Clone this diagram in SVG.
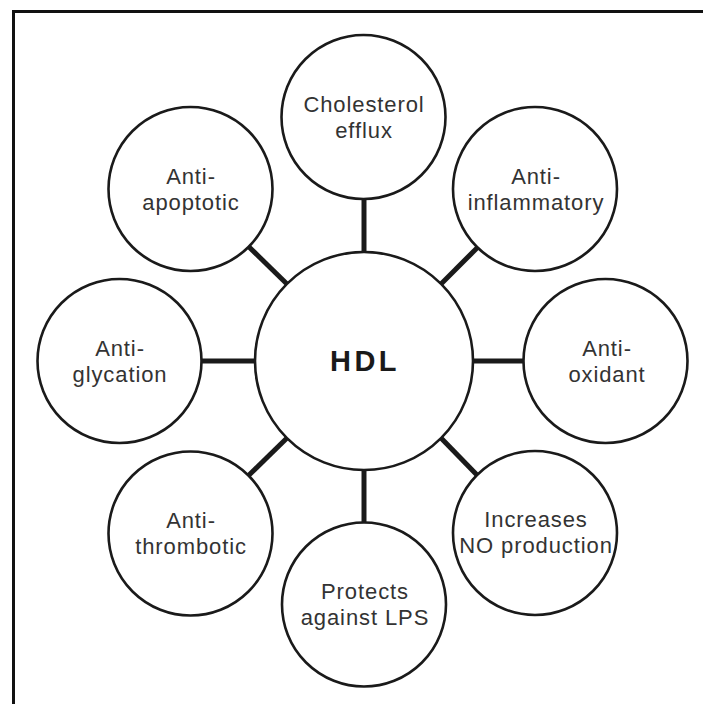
<svg xmlns="http://www.w3.org/2000/svg" width="703" height="704" viewBox="0 0 703 704">
<style>
.bg{fill:#ffffff}
.frame{fill:none;stroke:#111;stroke-width:3}
.node circle{fill:#fff;stroke:#1a1a1a;stroke-width:2.6}
.node text{font-family:"Liberation Sans",Arial,sans-serif;font-size:22px;fill:#333;text-anchor:middle;letter-spacing:0.9px}
#hdl text{font-size:29px;font-weight:bold;fill:#1a1a1a;letter-spacing:3.5px}
#connectors line{stroke:#1a1a1a;stroke-width:5}
</style>
<rect class="bg" x="0" y="0" width="703" height="704"/>
<path class="frame" d="M13.5,704 V11.5 H703"/>
<g id="connectors">
  <line x1="364" y1="252" x2="364" y2="199"/>
  <line x1="364" y1="470" x2="364" y2="522"/>
  <line x1="255" y1="361" x2="202" y2="361"/>
  <line x1="473" y1="361" x2="523" y2="361"/>
  <line x1="287" y1="284" x2="248" y2="246"/>
  <line x1="441" y1="284" x2="478" y2="247"/>
  <line x1="287" y1="438" x2="248" y2="476"/>
  <line x1="441" y1="438" x2="477" y2="475"/>
</g>
<g id="hdl" class="node">
  <circle cx="364" cy="361" r="109"/>
  <text x="365" y="371">HDL</text>
</g>
<g id="cholesterol-efflux" class="node">
  <circle cx="363.5" cy="117" r="82"/>
  <text x="364" y="112">Cholesterol</text>
  <text x="364" y="138">efflux</text>
</g>
<g id="anti-inflammatory" class="node">
  <circle cx="535" cy="189" r="82"/>
  <text x="536" y="184">Anti-</text>
  <text x="536" y="210">inflammatory</text>
</g>
<g id="anti-oxidant" class="node">
  <circle cx="605.5" cy="361" r="82"/>
  <text x="607" y="356">Anti-</text>
  <text x="607" y="382">oxidant</text>
</g>
<g id="increases-no-production" class="node">
  <circle cx="535" cy="533" r="82"/>
  <text x="536" y="527">Increases</text>
  <text x="536" y="553">NO production</text>
</g>
<g id="protects-against-lps" class="node">
  <circle cx="364" cy="604.5" r="82"/>
  <text x="365" y="599">Protects</text>
  <text x="365" y="625">against LPS</text>
</g>
<g id="anti-thrombotic" class="node">
  <circle cx="190.5" cy="533.5" r="82"/>
  <text x="191" y="528">Anti-</text>
  <text x="191" y="554">thrombotic</text>
</g>
<g id="anti-glycation" class="node">
  <circle cx="119.5" cy="361" r="82"/>
  <text x="120" y="356">Anti-</text>
  <text x="120" y="382">glycation</text>
</g>
<g id="anti-apoptotic" class="node">
  <circle cx="190.5" cy="189" r="82"/>
  <text x="191" y="184">Anti-</text>
  <text x="191" y="210">apoptotic</text>
</g>
</svg>
